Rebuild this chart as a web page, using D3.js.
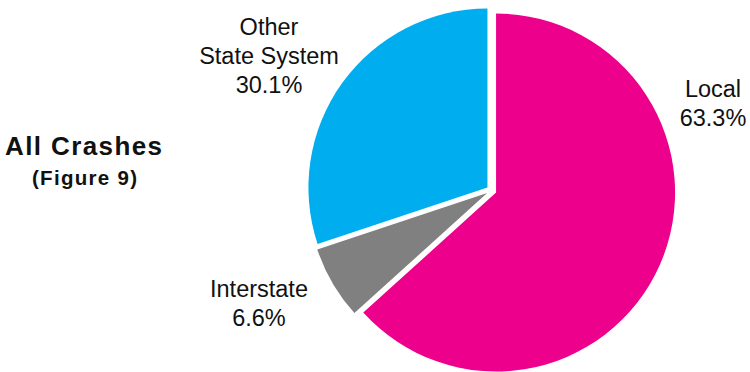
<!DOCTYPE html>
<html>
<head>
<meta charset="utf-8">
<script src="https://cdn.jsdelivr.net/npm/d3@7"></script>
<style>
  html, body { margin: 0; padding: 0; background: #fff; }
  svg { display: block; }
  text { font-family: "Liberation Sans", Arial, Helvetica, sans-serif; fill: #111; }
</style>
</head>
<body>
<svg id="chart" width="750" height="372"></svg>
<script>
// Crash share by road system
const categories = ["Local", "Interstate", "Other State System"];
const values = [63.3, 6.6, 30.1];
const colors = ["#EC008C", "#808080", "#00AEEF"];
const labelLines = [["Local"], ["Interstate"], ["Other", "State System"]];

const svg = d3.select("#chart");
const cx = 491.5, cy = 190.5, radius = 179, explode = 5;

const pie = d3.pie().sort(null).value(d => d.value);
const arc = d3.arc().innerRadius(0).outerRadius(radius);

const data = categories.map((c, i) => ({ name: c, value: values[i], color: colors[i], lines: labelLines[i] }));
const arcs = pie(data);

const g = svg.append("g").attr("transform", `translate(${cx},${cy})`);

// Slices, each pushed slightly out along its mid-angle
g.selectAll("path")
  .data(arcs)
  .join("path")
  .attr("d", arc)
  .attr("fill", d => d.data.color)
  .attr("transform", d => {
    const mid = (d.startAngle + d.endAngle) / 2;
    return `translate(${Math.sin(mid) * explode},${-Math.cos(mid) * explode})`;
  });

// Slice labels beside the pie
const labelPos = {
  "Local": { x: 713, y: 97 },
  "Interstate": { x: 259, y: 297 },
  "Other State System": { x: 269, y: 35 }
};
const lineH = 29;
arcs.forEach(d => {
  const p = labelPos[d.data.name];
  const t = svg.append("text")
    .attr("text-anchor", "middle")
    .attr("font-size", 23.5);
  const lines = d.data.lines.concat([d3.format(".1f")(d.data.value) + "%"]);
  lines.forEach((ln, k) => {
    t.append("tspan").attr("x", p.x).attr("y", p.y + k * lineH).text(ln);
  });
});

// Title
svg.append("text")
  .attr("x", 5).attr("y", 155)
  .attr("font-size", 26).attr("font-weight", "bold")
  .attr("textLength", 157).attr("lengthAdjust", "spacing")
  .text("All Crashes");
svg.append("text")
  .attr("x", 32).attr("y", 185)
  .attr("font-size", 20.5).attr("font-weight", "bold")
  .attr("textLength", 105).attr("lengthAdjust", "spacing")
  .text("(Figure 9)");
</script>
</body>
</html>
